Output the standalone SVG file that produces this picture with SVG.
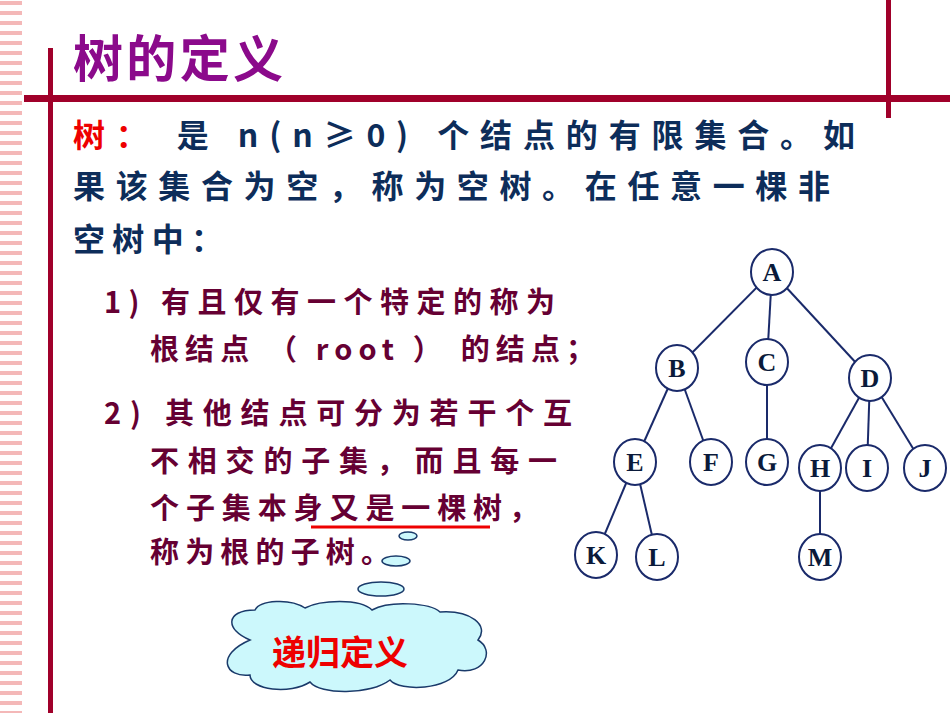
<svg xmlns="http://www.w3.org/2000/svg" width="950" height="713" viewBox="0 0 950 713">
<defs>
<pattern id="st" width="22" height="10" patternUnits="userSpaceOnUse"><rect width="22" height="10" fill="#fff"/><rect y="1" width="22" height="4" fill="#f4b8b8"/></pattern>
</defs>
<style>
.n{fill:#fff;stroke:#1a2a6a;stroke-width:2}
.t{font-family:"Liberation Serif",serif;font-weight:bold;font-size:26px;fill:#0a1a3a;text-anchor:middle}
.b{font-family:"Noto Sans CJK SC",sans-serif;font-weight:bold;font-size:32px;fill:#0d2d5a}
.m{font-family:"Noto Sans CJK SC",sans-serif;font-weight:bold;font-size:29px;fill:#660033}
line.e{stroke:#1a2a6a;stroke-width:2}
</style>
<rect width="950" height="713" fill="#fff"/>
<rect x="0" y="0" width="22" height="713" fill="url(#st)"/>
<rect x="48" y="48" width="5" height="665" fill="#a0002a"/>
<rect x="886" y="0" width="5" height="118" fill="#a0002a"/>
<rect x="24" y="95" width="926" height="7" fill="#a0002a"/>
<text x="73" y="77" font-family="Noto Sans CJK SC,sans-serif" font-weight="bold" font-size="50" fill="#8b0a8b" textLength="210" lengthAdjust="spacing">树的定义</text>
<text class="b" x="73" y="147" textLength="782" lengthAdjust="spacing"><tspan fill="#e00">树：</tspan> 是  n(n≥0)  个结点的有限集合。如</text>
<text class="b" x="73" y="198" textLength="757" lengthAdjust="spacing">果该集合为空，称为空树。在任意一棵非</text>
<text class="b" x="73" y="251" textLength="150" lengthAdjust="spacing">空树中：</text>
<text class="m" x="104" y="313" textLength="451" lengthAdjust="spacing">1) 有且仅有一个特定的称为</text>
<text class="m" x="150" y="360" textLength="445" lengthAdjust="spacing">根结点 （ root ） 的结点；</text>
<text class="m" x="104" y="424" textLength="468" lengthAdjust="spacing">2)  其他结点可分为若干个互</text>
<text class="m" x="150" y="472" textLength="407" lengthAdjust="spacing">不相交的子集，而且每一</text>
<text class="m" x="150" y="519" textLength="388" lengthAdjust="spacing">个子集本身又是一棵树，</text>
<text class="m" x="150" y="563" textLength="240" lengthAdjust="spacing">称为根的子树。</text>
<line x1="311" y1="527" x2="490" y2="527" stroke="#e00" stroke-width="3"/>
<g id="cloud" fill="#ccf8fc" stroke="#1a3a6a" stroke-width="1.5">
<ellipse cx="408" cy="536" rx="9" ry="4"/>
<ellipse cx="396" cy="561" rx="14" ry="5"/>
<ellipse cx="381" cy="589" rx="23" ry="7"/>
<path d="M250,640 C225,630 225,610 255,610 C260,600 290,598 305,608 C320,600 360,598 372,610 C390,600 430,603 440,612 C470,610 490,625 478,640 C495,650 485,675 458,670 C450,690 400,692 390,680 C370,695 320,695 310,682 C290,695 250,690 250,675 C225,678 215,655 250,640 Z"/>
</g>
<text x="340" y="665" font-family="Noto Sans CJK SC,sans-serif" font-weight="bold" font-size="34" fill="#e00" text-anchor="middle">递归定义</text>
<g id="edges">
<line class="e" x1="772" y1="272" x2="677" y2="368"/><line class="e" x1="772" y1="272" x2="767" y2="362"/><line class="e" x1="772" y1="272" x2="870" y2="378"/>
<line class="e" x1="677" y1="368" x2="635" y2="462"/><line class="e" x1="677" y1="368" x2="711" y2="462"/><line class="e" x1="767" y1="362" x2="767" y2="462"/>
<line class="e" x1="870" y1="378" x2="820" y2="468"/><line class="e" x1="870" y1="378" x2="867" y2="468"/><line class="e" x1="870" y1="378" x2="925" y2="468"/>
<line class="e" x1="635" y1="462" x2="596" y2="555"/><line class="e" x1="635" y1="462" x2="657" y2="557"/><line class="e" x1="820" y1="468" x2="820" y2="557"/>
</g>
<g id="A"><ellipse class="n" cx="772" cy="272" rx="21" ry="23"/><text class="t" x="772" y="281">A</text></g>
<g id="B"><ellipse class="n" cx="677" cy="368" rx="21" ry="23"/><text class="t" x="677" y="377">B</text></g>
<g id="C"><ellipse class="n" cx="767" cy="362" rx="21" ry="23"/><text class="t" x="767" y="371">C</text></g>
<g id="D"><ellipse class="n" cx="870" cy="378" rx="21" ry="23"/><text class="t" x="870" y="387">D</text></g>
<g id="E"><ellipse class="n" cx="635" cy="462" rx="21" ry="23"/><text class="t" x="635" y="471">E</text></g>
<g id="F"><ellipse class="n" cx="711" cy="462" rx="21" ry="23"/><text class="t" x="711" y="471">F</text></g>
<g id="G"><ellipse class="n" cx="767" cy="462" rx="21" ry="23"/><text class="t" x="767" y="471">G</text></g>
<g id="H"><ellipse class="n" cx="820" cy="468" rx="21" ry="23"/><text class="t" x="820" y="477">H</text></g>
<g id="I"><ellipse class="n" cx="867" cy="468" rx="21" ry="23"/><text class="t" x="867" y="477">I</text></g>
<g id="J"><ellipse class="n" cx="925" cy="468" rx="21" ry="23"/><text class="t" x="925" y="477">J</text></g>
<g id="K"><ellipse class="n" cx="596" cy="555" rx="21" ry="23"/><text class="t" x="596" y="564">K</text></g>
<g id="L"><ellipse class="n" cx="657" cy="557" rx="21" ry="23"/><text class="t" x="657" y="566">L</text></g>
<g id="M"><ellipse class="n" cx="820" cy="557" rx="21" ry="23"/><text class="t" x="820" y="566">M</text></g>
</svg>
